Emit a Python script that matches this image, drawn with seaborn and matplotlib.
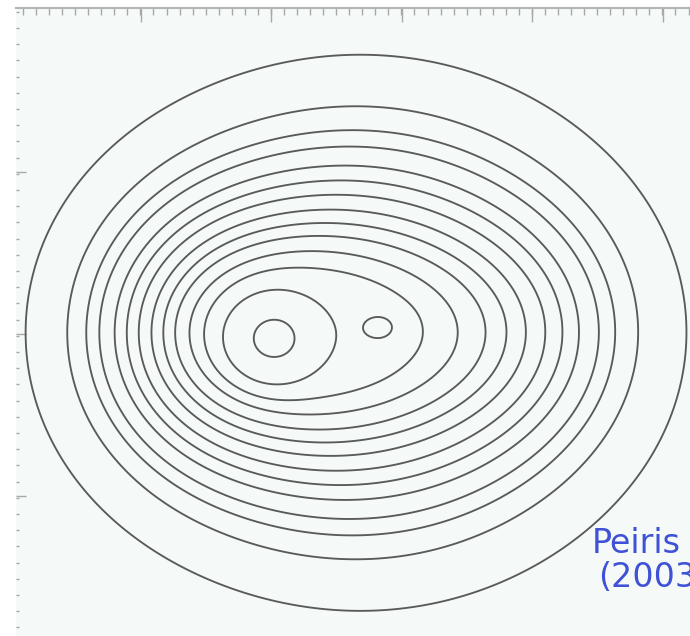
import numpy as np
import matplotlib
matplotlib.use("Agg")
import matplotlib.pyplot as plt
import seaborn as sns

# Likelihood surface, modelled as a sum of gaussian bumps (pixel-like units, y downwards)
comp_x = [363.8, 563.6, 175.5, 273.6, 380.9]
comp_y = [332.8, 330.8, 332.5, 338.7, 327.1]
comp_sx = [241.0, 91.0, 102.0, 24.3, 13.8]
comp_sy = [217.8, 100.3, 111.0, 22.5, 10.7]
comp_amp = [11.0324, 1.0, 2.3030, 3.9013, 0.6143]

# contour levels, outermost first
levels = [4.9043, 6.4864, 7.2553, 7.7845, 8.3926, 8.8571, 9.2920,
          9.7235, 10.0922, 10.4256, 10.7839, 11.1355, 11.8107, 14.4517]

author = "Peiris"
year = "(2003)"

sns.set_style("white")

x = np.linspace(16, 700, 700)
y = np.linspace(8, 646, 650)
xx, yy = np.meshgrid(x, y)
zz = np.zeros_like(xx)
for cx, cy, sx, sy, a in zip(comp_x, comp_y, comp_sx, comp_sy, comp_amp):
    zz += a * np.exp(-0.5 * (((xx - cx) / sx) ** 2 + ((yy - cy) / sy) ** 2))

fig = plt.figure(figsize=(6.9, 6.36), dpi=100, facecolor="white")
# the frame runs off the right and bottom edges of the picture
ax = fig.add_axes([16 / 690, -10 / 636, 684 / 690, 638 / 636])
ax.set_facecolor("#f5faf8")
ax.contour(xx, yy, zz, levels=levels, colors="#5a5a5a", linewidths=1.35)
ax.set_xlim(16, 700)
ax.set_ylim(646, 8)

# ticks only, no labels
ax.xaxis.set_ticks_position("top")
ax.set_xticks([140.5, 271, 401.5, 532, 662.5])
ax.set_xticks(np.arange(23.0, 690, 13.05), minor=True)
ax.set_yticks([172, 334, 496])
ax.set_yticks(np.arange(11.8, 640, 16.2), minor=True)
ax.tick_params(which="both", direction="in", color="#a8a8a8", width=1.0,
               labeltop=False, labelbottom=False, labelleft=False, top=True, left=True,
               bottom=False, right=False)
ax.tick_params(axis="x", which="major", length=10)
ax.tick_params(axis="x", which="minor", length=5)
ax.tick_params(axis="y", which="major", length=7)
ax.tick_params(axis="y", which="minor", length=2.5)
for s in ["left", "right", "bottom"]:
    ax.spines[s].set_visible(False)
ax.spines["top"].set_color("#b4b4b4")
ax.spines["top"].set_linewidth(1.5)

# reference label, runs off the right edge like in the original slide
fig.text(592 / 690, 1 - 553 / 636, author, color="#3f51d6", fontsize=24,
         family="DejaVu Sans", ha="left", va="baseline")
fig.text(598 / 690, 1 - 587 / 636, year, color="#3f51d6", fontsize=24,
         family="DejaVu Sans", ha="left", va="baseline")

fig.savefig("out.png", dpi=100)
